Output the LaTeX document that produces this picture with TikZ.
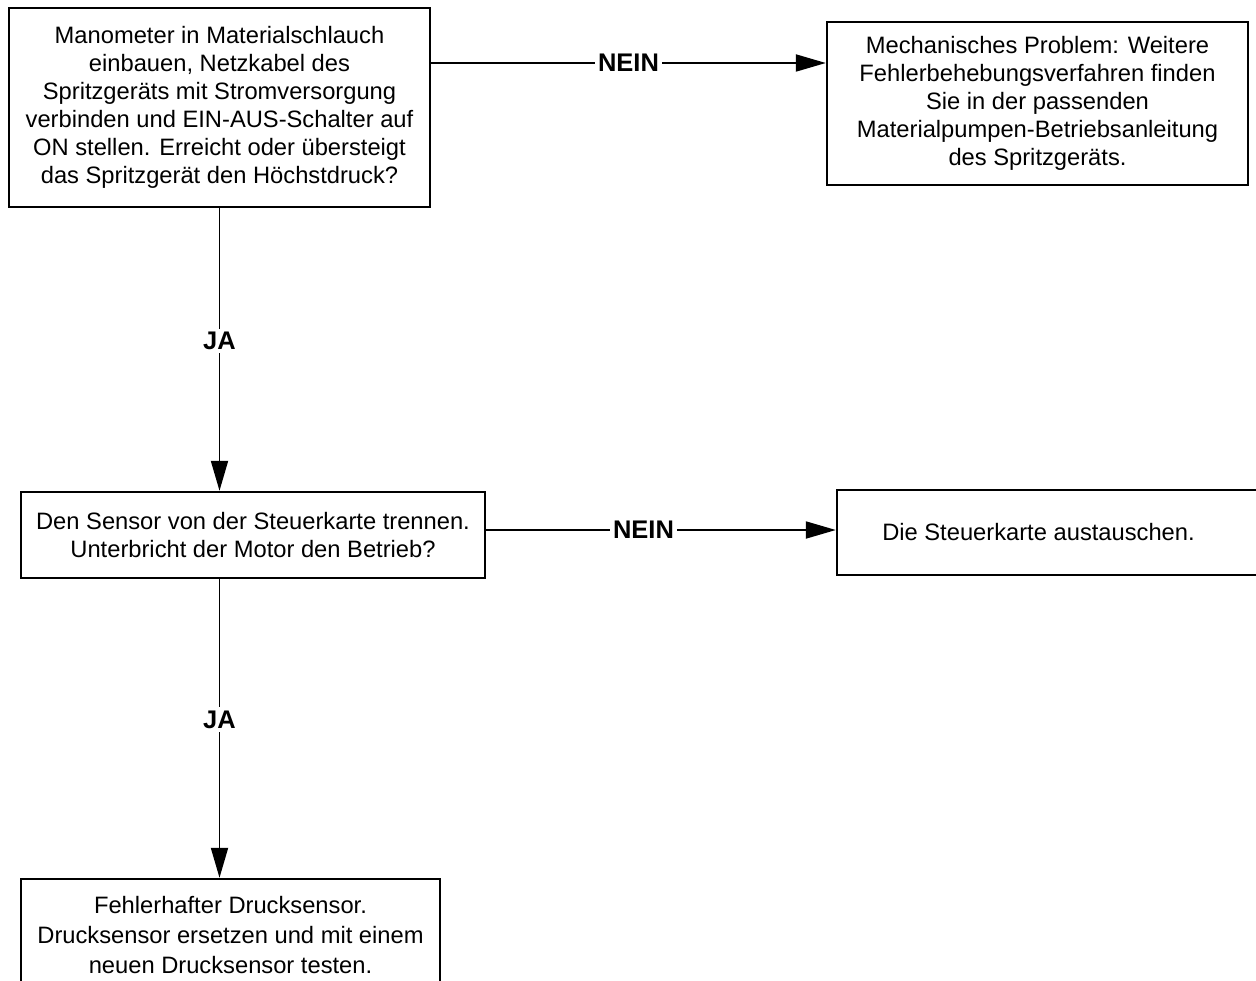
\documentclass[tikz,border=0pt]{standalone}
\usepackage{fontspec}
\setmainfont{Liberation Sans}
\usetikzlibrary{arrows.meta}

\begin{document}
\begin{tikzpicture}[x=0.02cm,y=-0.02cm]

  \tikzstyle{box}=[draw,line width=1.4pt,align=center,inner sep=0pt,font=\fontsize{13.5}{15.9}\selectfont]
  \tikzstyle{flow}=[line width=1.1pt,-{Triangle[length=0.6cm,width=0.34cm]}]
  \tikzstyle{answer}=[fill=white,inner sep=2pt,font=\fontsize{14.5}{17}\selectfont\bfseries]

  % ====================
  % Parameters
  % ====================
  \def\boxw{8.42cm}   % Width of the left/upper boxes
  \def\neinone{63}    % Height of the first NEIN arrow
  \def\neintwo{530}   % Height of the second NEIN arrow
  % ====================

  \useasboundingbox (0,0) rectangle (1256,980);

  % ====================
  % Boxes
  % ====================
  \node (check) [box,minimum width=\boxw,minimum height=3.98cm] at (219.5,107.5)
    {Manometer in Materialschlauch\\ einbauen, Netzkabel des\\ Spritzgeräts mit Stromversorgung\\
     verbinden und EIN-AUS-Schalter auf\\ ON stellen. Erreicht oder übersteigt\\ das Spritzgerät den Höchstdruck?};
  \node (mech) [box,minimum width=\boxw,minimum height=3.26cm] at (1037.5,103.5)
    {Mechanisches Problem: Weitere\\ Fehlerbehebungsverfahren finden\\ Sie in der passenden\\
     Materialpumpen-Betriebsanleitung\\ des Spritzgeräts.};
  \node (sensor) [box,minimum width=9.28cm,minimum height=1.72cm] at (253,535)
    {Den Sensor von der Steuerkarte trennen.\\ Unterbricht der Motor den Betrieb?};
  \node (board) [box,minimum width=8.66cm,minimum height=1.7cm] at (1053.5,532.5)
    {Die Steuerkarte austauschen.\hspace*{0.6cm}};
  \node (defect) [box,minimum width=8.38cm,minimum height=2.24cm,font=\fontsize{13.5}{17.1}\selectfont] at (230.5,935)
    {Fehlerhafter Drucksensor.\\ Drucksensor ersetzen und mit einem\\ neuen Drucksensor testen.};

  % ====================
  % Connectors
  % ====================
  \coordinate (nein1) at (0,\neinone);
  \coordinate (nein2) at (0,\neintwo);

  \draw[flow] (check.east |- nein1) -- node[answer]{NEIN} (mech.west |- nein1);
  \draw[flow] (sensor.east |- nein2) -- node[answer,pos=0.45]{NEIN} (board.west |- nein2);

  \draw[flow] (check.south) -- node[answer,pos=0.47]{JA} (check.south |- sensor.north);
  \draw[flow] (check.south |- sensor.south) -- node[answer,pos=0.47]{JA} (check.south |- defect.north);
\end{tikzpicture}
\end{document}
